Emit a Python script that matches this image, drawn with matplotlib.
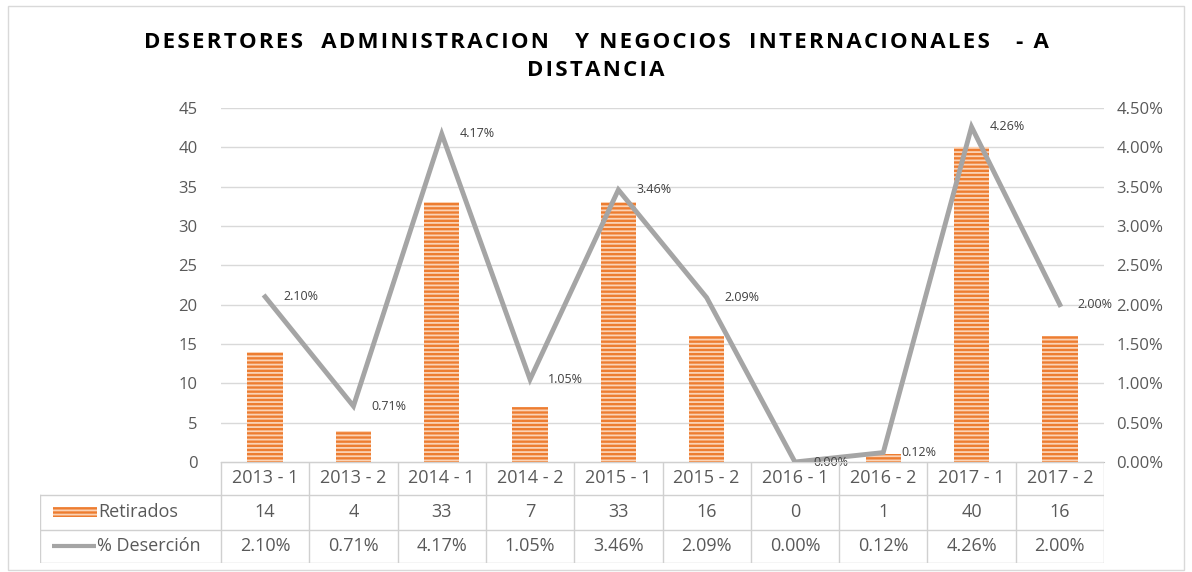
import matplotlib.pyplot as plt
from matplotlib.patches import Rectangle
from matplotlib.lines import Line2D
from matplotlib.ticker import FuncFormatter, MultipleLocator

periodos = ['2013 - 1', '2013 - 2', '2014 - 1', '2014 - 2', '2015 - 1',
            '2015 - 2', '2016 - 1', '2016 - 2', '2017 - 1', '2017 - 2']
retirados = [14, 4, 33, 7, 33, 16, 0, 1, 40, 16]
desercion = [2.10, 0.71, 4.17, 1.05, 3.46, 2.09, 0.00, 0.12, 4.26, 2.00]

titulo = ['DESERTORES  ADMINISTRACION   Y NEGOCIOS  INTERNACIONALES   - A', 'DISTANCIA']

W, H = 1192, 572
NARANJA = '#ED7D31'
RAYAS = '#FBD3B6'
GRIS = '#A5A5A5'
TEXTO = '#595959'
BORDE = '#D9D9D9'
FUENTE = ['Open Sans', 'DejaVu Sans']

plt.rcParams['font.family'] = FUENTE
plt.rcParams['hatch.linewidth'] = 1.3

fig = plt.figure(figsize=(W / 100, H / 100), dpi=100)


def px(x0, y0, x1, y1):
    # caja en pixeles (y desde arriba) -> coordenadas de figura
    return [x0 / W, 1 - y1 / H, (x1 - x0) / W, (y1 - y0) / H]


# marco del grafico
fig.patches.append(Rectangle((8 / W, 1 - 570 / H), 1176 / W, 564 / H,
                             transform=fig.transFigure, fill=False,
                             edgecolor=BORDE, lw=1))

# titulo con letras espaciadas
for i, linea in enumerate(titulo):
    espaciado = '\u200a'.join(linea)
    fig.text(0.5, 1 - (42 + 28 * i) / H, espaciado, ha='center', va='center',
             fontsize=16, fontweight='bold', color='black', family=FUENTE)

x_izq, x_der = 221, 1104
y_top, y_cero = 108, 462
ax = fig.add_axes(px(x_izq, y_top, x_der, y_cero))
n = len(periodos)
xs = list(range(n))

ax.bar(xs, retirados, width=0.4, color=NARANJA, edgecolor=RAYAS,
       hatch='----', linewidth=0, zorder=2)
ax.set_xlim(-0.5, n - 0.5)
ax.set_ylim(0, 45)
ax.yaxis.set_major_locator(MultipleLocator(5))
ax.grid(axis='y', color=BORDE, lw=1, zorder=0)
ax.set_axisbelow(True)
for s in ['top', 'right', 'left']:
    ax.spines[s].set_visible(False)
ax.spines['bottom'].set_color('#BFBFBF')
ax.set_xticks([])
ax.tick_params(axis='y', length=0, labelsize=12, labelcolor=TEXTO, pad=17)

ax2 = ax.twinx()
ax2.plot(xs, desercion, color=GRIS, lw=3.5, solid_joinstyle='miter', zorder=3)
ax2.set_ylim(0, 4.5)
ax2.yaxis.set_major_locator(MultipleLocator(0.5))
ax2.yaxis.set_major_formatter(FuncFormatter(lambda v, p: '%.2f%%' % v))
for s in ax2.spines.values():
    s.set_visible(False)
ax2.tick_params(axis='y', length=0, labelsize=12, labelcolor=TEXTO, pad=9)
for x, v in zip(xs, desercion):
    ax2.annotate('%.2f%%' % v, (x, v), xytext=(13, 0), textcoords='offset points',
                 ha='left', va='center', fontsize=9, color='#404040')

# tabla de datos
filas = [462, 495, 530, 563]
x_tabla = 40
tb = fig.add_axes(px(x_tabla, filas[0], x_der, filas[-1]))
tb.set_xlim(x_tabla, x_der)
tb.set_ylim(filas[-1], filas[0])
tb.axis('off')
ancho = (x_der - x_izq) / n
lc = '#D0D0D0'
# lineas horizontales
tb.plot([x_izq, x_der], [filas[0], filas[0]], color=lc, lw=1)
for yy in filas[1:]:
    tb.plot([x_tabla, x_der], [yy, yy], color=lc, lw=1)
# lineas verticales
for k in range(n + 1):
    xx = x_izq + k * ancho
    tb.plot([xx, xx], [filas[0], filas[-1]], color=lc, lw=1)
tb.plot([x_tabla, x_tabla], [filas[1], filas[-1]], color=lc, lw=1)

for k in range(n):
    cx = x_izq + (k + 0.5) * ancho
    tb.text(cx, (filas[0] + filas[1]) / 2, periodos[k], ha='center', va='center',
            fontsize=13, color=TEXTO)
    tb.text(cx, (filas[1] + filas[2]) / 2, str(retirados[k]), ha='center', va='center',
            fontsize=13, color=TEXTO)
    tb.text(cx, (filas[2] + filas[3]) / 2, '%.2f%%' % desercion[k], ha='center',
            va='center', fontsize=13, color=TEXTO)

# leyenda en la tabla
ym = (filas[1] + filas[2]) / 2
tb.add_patch(Rectangle((53, ym - 5), 44, 10, facecolor=NARANJA, edgecolor=RAYAS,
                       hatch='----', linewidth=0))
tb.text(98, ym, 'Retirados', ha='left', va='center', fontsize=13, color=TEXTO)
ym = (filas[2] + filas[3]) / 2
tb.add_line(Line2D([52, 96], [ym, ym], color=GRIS, lw=3, solid_capstyle='butt'))
tb.text(97, ym, '% Deserción', ha='left', va='center', fontsize=13, color=TEXTO)

fig.savefig('out.png', dpi=100)
